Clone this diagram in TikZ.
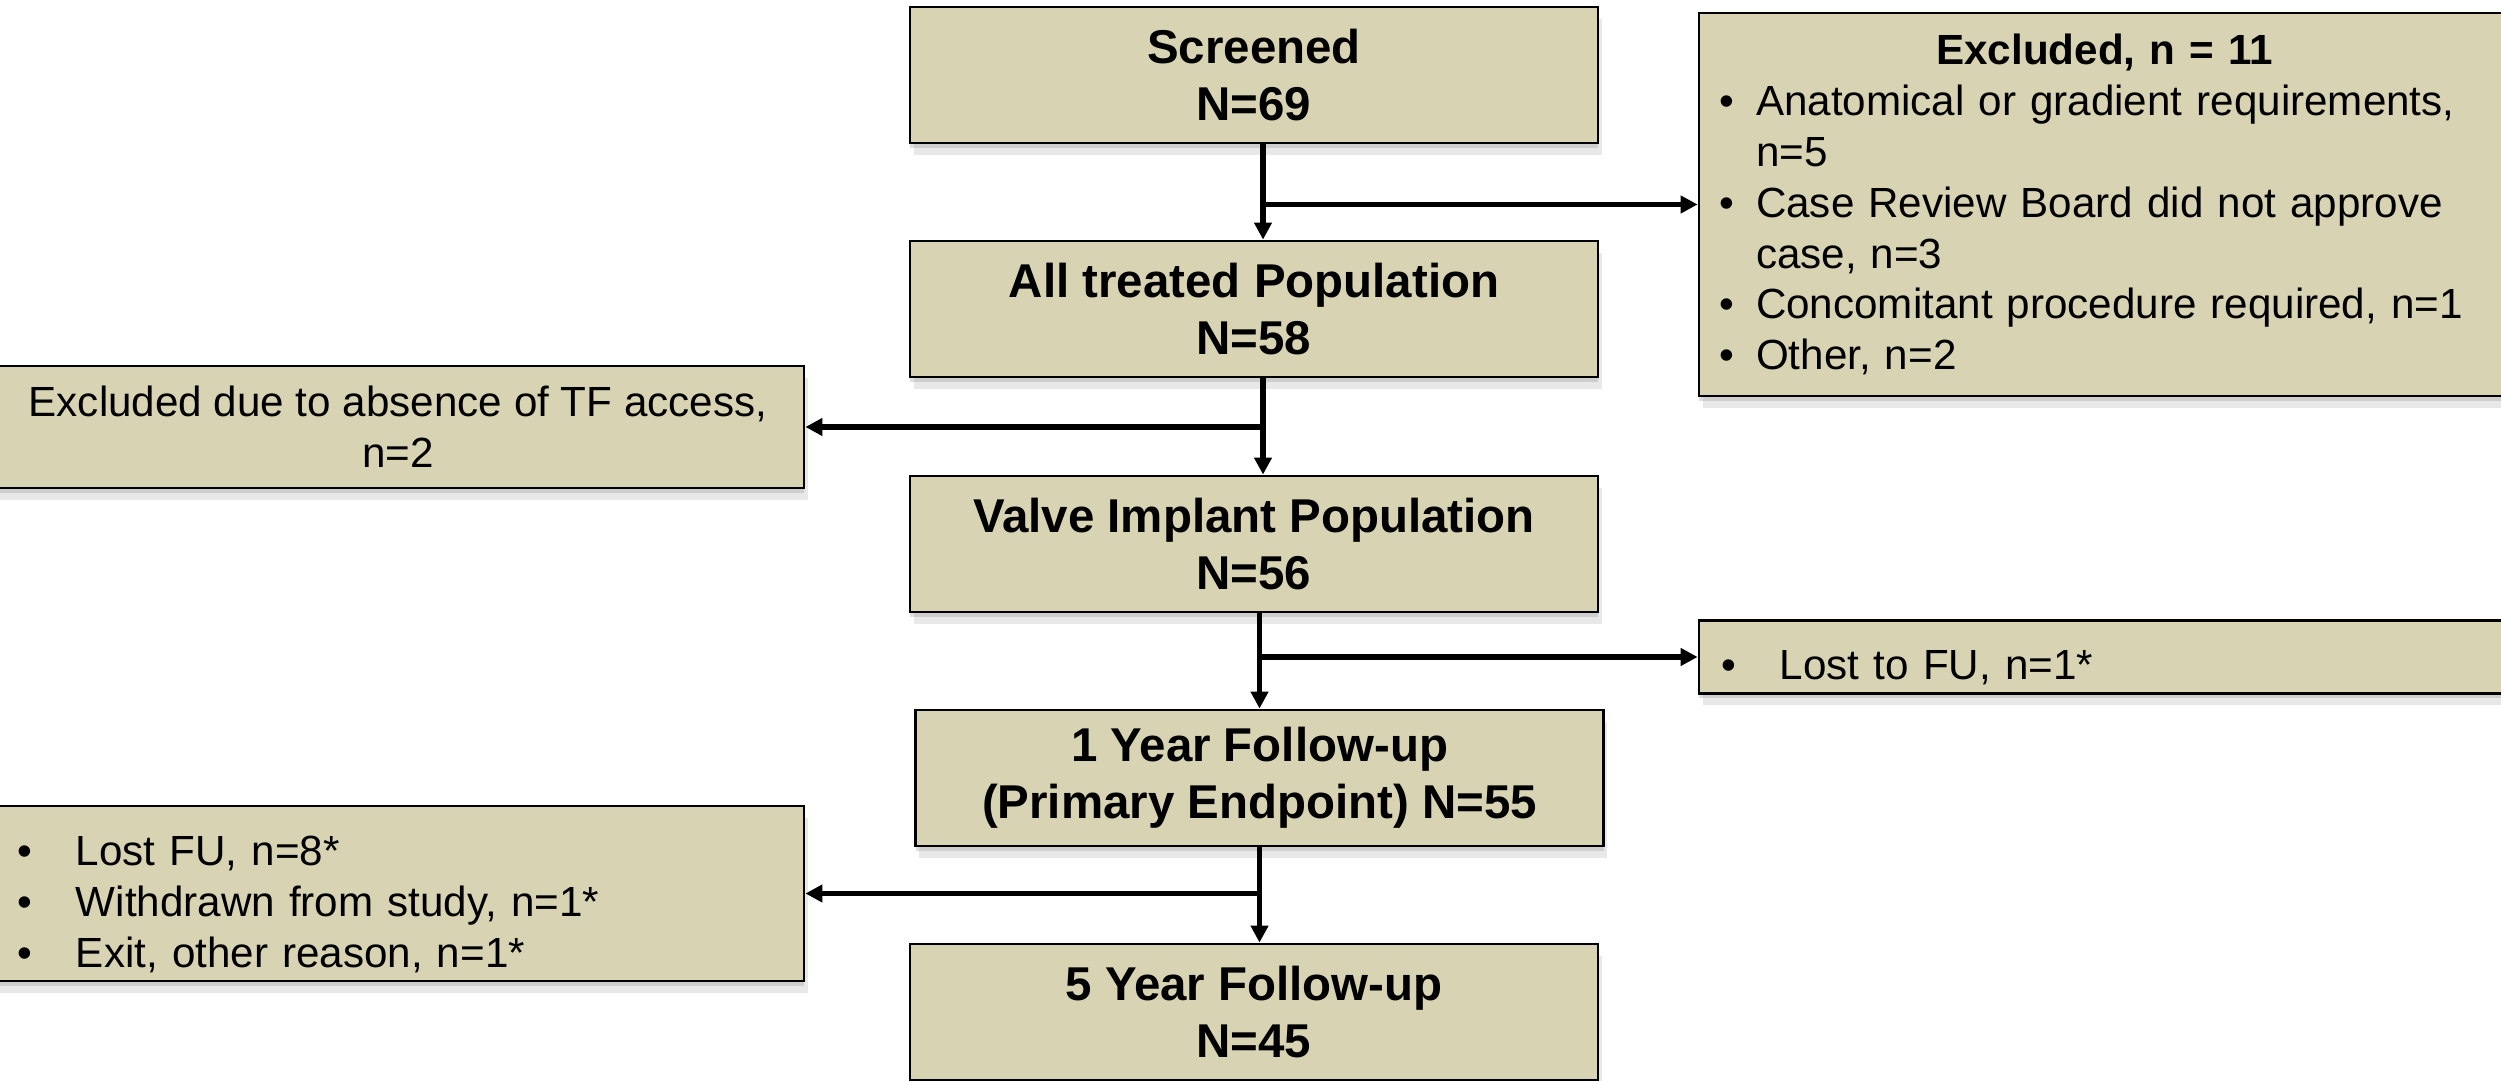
\documentclass[tikz,border=0pt]{standalone}
\usepackage{fontspec}
\setmainfont{Liberation Sans}
\usepackage{xcolor}
\usetikzlibrary{arrows.meta, shadows, positioning}
\definecolor{boxtan}{RGB}{216,212,179}
\tikzset{> = { Triangle[length = 1.7mm, width = 1.7mm] }}
\tikzset{
	softshadow/.style = {drop shadow = {shadow xshift = 0pt, shadow yshift = -1.5pt, opacity = 0.25}, drop shadow = {shadow xshift = 1pt, shadow yshift = -3.5pt, opacity = 0.18}},
	flowbox/.style = {draw, rectangle, fill = boxtan, line width = 0.8pt, softshadow},
	stagebox/.style = {flowbox, minimum width = 6.88cm, minimum height = 1.36cm, align = center, font = \fontsize{13.5pt}{16.2pt}\selectfont\bfseries},
	sidebox/.style = {flowbox, align = left, inner ysep = 0.08cm, font = \fontsize{12pt}{14.5pt}\selectfont},
	link/.style = {->, line width = 1.5pt}
}
\newcommand{\bulletline}[2][0.37cm]{\par\noindent\hangindent=#1\hangafter=1\makebox[#1][l]{\textbullet}#2}

\begin{document}
\begin{tikzpicture}
		\useasboundingbox (0, 0) rectangle (25.01, -10.81);

		% main column
		\node [stagebox] (screened) at (12.54, -0.75) {Screened\\N=69};
		\node [stagebox] (treated) at (12.54, -3.09) {All treated Population\\N=58};
		\node [stagebox] (valve) at (12.54, -5.44) {Valve Implant Population\\N=56};
		\node [stagebox] (year1) at (12.595, -7.78) {1 Year Follow-up\\(Primary Endpoint) N=55};
		\node [stagebox] (year5) at (12.54, -10.12) {5 Year Follow-up\\N=45};

		% side boxes
		\node [sidebox, inner xsep = 0.2cm, text width = 7.71cm, minimum height = 3.83cm] (excl) at (21.045, -2.045) {%
			{\centering\bfseries Excluded, n = 11\par}
			\bulletline{Anatomical or gradient requirements, n=5}
			\bulletline{Case Review Board did not approve case, n=3}
			\bulletline{Concomitant procedure required, n=1}
			\bulletline{Other, n=2}};
		\node [sidebox, align = flush center, inner xsep = 0.3cm, text width = 7.52cm, minimum height = 1.22cm] (tf) at (3.98, -4.27) {Excluded due to absence of TF access,\\n=2};
		\node [sidebox, inner xsep = 0.22cm, text width = 7.67cm, minimum height = 0.70cm] (lost) at (21.045, -6.57) {\bulletline[0.59cm]{Lost to FU, n=1*}};
		\node [sidebox, inner xsep = 0.26cm, text width = 7.6cm, minimum height = 1.75cm] (dropped) at (3.98, -8.935) {%
			\bulletline[0.58cm]{Lost FU, n=8*}
			\bulletline[0.58cm]{Withdrawn from study, n=1*}
			\bulletline[0.58cm]{Exit, other reason, n=1*}};

		% connectors
		\draw [link] ([xshift = 0.09cm]screened.south) -- ([xshift = 0.09cm]treated.north);
		\coordinate (b1) at ([xshift = 0.09cm]screened.south |- excl.west);
		\draw [link] (b1) -- (excl.west);

		\draw [link] ([xshift = 0.09cm]treated.south) -- ([xshift = 0.09cm]valve.north);
		\coordinate (b2) at ([xshift = 0.09cm]treated.south |- tf.east);
		\draw [link] (b2) -- (tf.east);

		\draw [link] (year1.north |- valve.south) -- (year1.north);
		\coordinate (b3) at (year1.north |- lost.west);
		\draw [link] (b3) -- (lost.west);

		\draw [link] (year1.south) -- (year1.south |- year5.north);
		\coordinate (b4) at (year1.south |- dropped.east);
		\draw [link] (b4) -- (dropped.east);
	\end{tikzpicture}
\end{document}
